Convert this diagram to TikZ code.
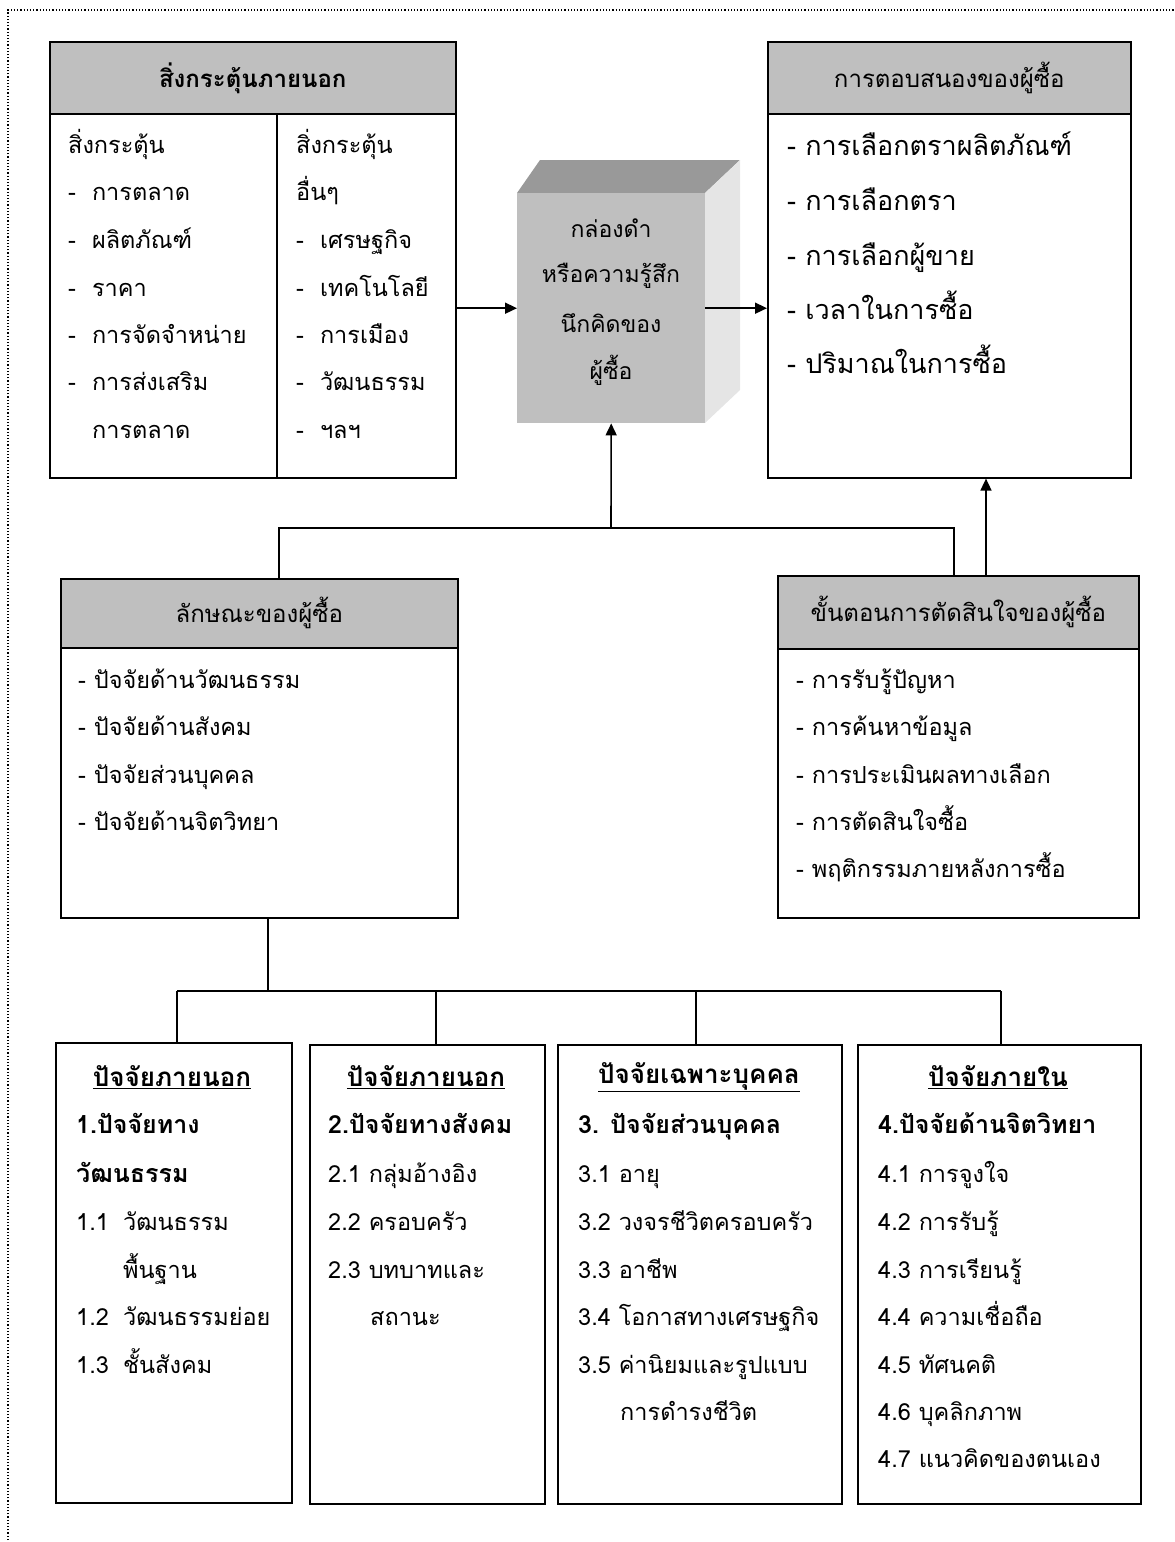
\documentclass[tikz,border=0pt]{standalone}
\usepackage{fontspec}
\setmainfont[Script=Thai]{Loma}
\usetikzlibrary{arrows.meta}
\tikzstyle{box}=[rectangle, draw=black, line width=1.6pt, fill=white, inner sep=0pt, anchor=north west]
\tikzstyle{head}=[box, fill=black!25]
\tikzstyle{title}=[inner sep=0pt, anchor=center, font=\fontsize{24}{28}\selectfont]
\tikzstyle{subtitle}=[title, font=\fontsize{26}{30}\selectfont\bfseries]
\tikzstyle{item}=[inner sep=0pt, anchor=west, text height=18pt, text depth=8pt, font=\fontsize{23.5}{28}\selectfont]
\tikzstyle{bold}=[item, font=\fontsize{25}{30}\selectfont\bfseries]
\tikzstyle{big}=[item, font=\fontsize{27}{32}\selectfont]
\tikzstyle{link}=[line width=1.6pt]
\tikzstyle{arrow}=[link, -{Triangle[length=12pt, width=11pt]}]
\newcommand{\headbox}[6]{% name, x, y, width, height, header height
  \node[box, minimum width=#4pt, minimum height=#5pt] (#1) at (#2,#3) {};
  \node[head, minimum width=#4pt, minimum height=#6pt] (#1head) at (#2,#3) {};
}

\begin{document}
\begin{tikzpicture}[x=1pt, y=-1pt]
	\useasboundingbox (0,0) rectangle (1175,1542);
	\draw[dotted, line width=1.2pt] (8,1540) -- (8,10) -- (1175,10);

	% stimulus
	\headbox{stim}{49}{41}{406}{436}{72}
	\node[title] at (stimhead.center) {\bfseries สิ่งกระตุ้นภายนอก};
	\draw[link] (277,113) -- (277,477);
	\node[item] at (68,148) {สิ่งกระตุ้น};
	\node[item] at (68,195) {-\hspace{16pt}การตลาด};
	\node[item] at (68,243) {-\hspace{16pt}ผลิตภัณฑ์};
	\node[item] at (68,291) {-\hspace{16pt}ราคา};
	\node[item] at (68,338) {-\hspace{16pt}การจัดจำหน่าย};
	\node[item] at (68,385) {-\hspace{16pt}การส่งเสริม};
	\node[item] at (92,433) {การตลาด};
	\node[item] at (296,148) {สิ่งกระตุ้น};
	\node[item] at (296,195) {อื่นๆ};
	\node[item] at (296,243) {-\hspace{16pt}เศรษฐกิจ};
	\node[item] at (296,291) {-\hspace{16pt}เทคโนโลยี};
	\node[item] at (296,338) {-\hspace{16pt}การเมือง};
	\node[item] at (296,385) {-\hspace{16pt}วัฒนธรรม};
	\node[item] at (296,433) {-\hspace{16pt}ฯลฯ};

	% black box
	\fill[black!40] (517,193) -- (540,160) -- (740,160) -- (705,193) -- cycle;
	\fill[black!10] (705,193) -- (740,160) -- (740,390) -- (705,423) -- cycle;
	\node[rectangle, fill=black!25, inner sep=0pt, anchor=north west, minimum width=188pt, minimum height=230pt] (blackbox) at (517,193) {};
	\node[title, font=\fontsize{23}{27}\selectfont] at (611,228) {กล่องดำ};
	\node[title, font=\fontsize{23}{27}\selectfont] at (611,276) {หรือความรู้สึก};
	\node[title, font=\fontsize{23}{27}\selectfont] at (611,323) {นึกคิดของ};
	\node[title, font=\fontsize{23}{27}\selectfont] at (611,370) {ผู้ซื้อ};

	% response
	\headbox{resp}{767}{41}{363}{436}{72}
	\node[title] at (resphead.center) {การตอบสนองของผู้ซื้อ};
	\node[big] at (787,150) {- การเลือกตราผลิตภัณฑ์};
	\node[big] at (787,205) {- การเลือกตรา};
	\node[big] at (787,260) {- การเลือกผู้ขาย};
	\node[big] at (787,314) {- เวลาในการซื้อ};
	\node[big] at (787,368) {- ปริมาณในการซื้อ};

	\draw[arrow] (stim.east |- blackbox.west) -- (blackbox.west);
	\draw[arrow] (blackbox.east) -- (resp.west |- blackbox.east);

	% buyer characteristics
	\headbox{char}{60}{578}{397}{339}{69}
	\node[title] at (charhead.center) {ลักษณะของผู้ซื้อ};
	\node[item] at (78,683) {- ปัจจัยด้านวัฒนธรรม};
	\node[item] at (78,730) {- ปัจจัยด้านสังคม};
	\node[item] at (78,778) {- ปัจจัยส่วนบุคคล};
	\node[item] at (78,825) {- ปัจจัยด้านจิตวิทยา};

	% decision process
	\headbox{decide}{777}{575}{361}{342}{73}
	\node[title] at (decidehead.center) {ขั้นตอนการตัดสินใจของผู้ซื้อ};
	\node[item] at (796,683) {- การรับรู้ปัญหา};
	\node[item] at (796,730) {- การค้นหาข้อมูล};
	\node[item] at (796,778) {- การประเมินผลทางเลือก};
	\node[item] at (796,825) {- การตัดสินใจซื้อ};
	\node[item] at (796,872) {- พฤติกรรมภายหลังการซื้อ};

	\coordinate (lk) at (279,528);
	\coordinate (mk) at (611,528);
	\coordinate (rk) at (954,528);
	\coordinate (up) at (986,528);
	\draw[link] (char.north -| lk) -- (lk) -- (rk) -- (decide.north -| rk);
	\draw[arrow] (mk) -- (blackbox.south);
	\draw[arrow] (decide.north -| up) -- (resp.south -| up);

	% factors
	\node[box, minimum width=236pt, minimum height=460pt] (f1) at (55,1042) {};
	\node[box, minimum width=235pt, minimum height=459pt] (f2) at (309,1044) {};
	\node[box, minimum width=284pt, minimum height=459pt] (f3) at (557,1044) {};
	\node[box, minimum width=283pt, minimum height=459pt] (f4) at (857,1044) {};

	\coordinate (tb) at (268,991);
	\coordinate (d1) at (177,991);
	\coordinate (d2) at (436,991);
	\coordinate (d3) at (696,991);
	\coordinate (d4) at (1001,991);
	\draw[link] (char.south -| tb) -- (tb);
	\draw[link] (d1) -- (d4);
	\draw[link] (d1) -- (f1.north -| d1);
	\draw[link] (d2) -- (f2.north -| d2);
	\draw[link] (d3) -- (f3.north -| d3);
	\draw[link] (d4) -- (f4.north -| d4);

	\node[subtitle] at (172,1077) {\underline{ปัจจัยภายนอก}};
	\node[bold] at (76,1128) {1.ปัจจัยทาง};
	\node[bold] at (76,1177) {วัฒนธรรม};
	\node[item] at (76,1225) {1.1};
	\node[item] at (123,1225) {วัฒนธรรม};
	\node[item] at (123,1273) {พื้นฐาน};
	\node[item] at (76,1320) {1.2};
	\node[item] at (123,1320) {วัฒนธรรมย่อย};
	\node[item] at (76,1368) {1.3};
	\node[item] at (123,1368) {ชั้นสังคม};

	\node[subtitle] at (426,1077) {\underline{ปัจจัยภายนอก}};
	\node[bold] at (328,1128) {2.ปัจจัยทางสังคม};
	\node[item] at (328,1177) {2.1 กลุ่มอ้างอิง};
	\node[item] at (328,1225) {2.2 ครอบครัว};
	\node[item] at (328,1273) {2.3 บทบาทและ};
	\node[item] at (370,1320) {สถานะ};

	\node[subtitle] at (699,1077) {\underline{ปัจจัยเฉพาะบุคคล}};
	\node[bold] at (578,1128) {3. ปัจจัยส่วนบุคคล};
	\node[item] at (578,1177) {3.1 อายุ};
	\node[item] at (578,1225) {3.2 วงจรชีวิตครอบครัว};
	\node[item] at (578,1273) {3.3 อาชีพ};
	\node[item] at (578,1320) {3.4 โอกาสทางเศรษฐกิจ};
	\node[item] at (578,1368) {3.5 ค่านิยมและรูปแบบ};
	\node[item] at (620,1415) {การดำรงชีวิต};

	\node[subtitle] at (998,1077) {\underline{ปัจจัยภายใน}};
	\node[bold] at (878,1128) {4.ปัจจัยด้านจิตวิทยา};
	\node[item] at (878,1177) {4.1 การจูงใจ};
	\node[item] at (878,1225) {4.2 การรับรู้};
	\node[item] at (878,1273) {4.3 การเรียนรู้};
	\node[item] at (878,1320) {4.4 ความเชื่อถือ};
	\node[item] at (878,1368) {4.5 ทัศนคติ};
	\node[item] at (878,1415) {4.6 บุคลิกภาพ};
	\node[item] at (878,1462) {4.7 แนวคิดของตนเอง};
\end{tikzpicture}
\end{document}
